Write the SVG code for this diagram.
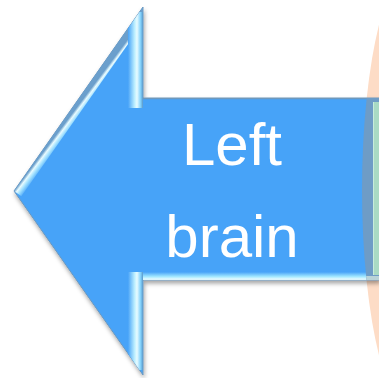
<svg xmlns="http://www.w3.org/2000/svg" width="379" height="378" viewBox="0 0 379 378">
  <defs>
    <style>
      .lbl { font-family: "Liberation Sans", Arial, sans-serif; font-size: 60px; fill: #ffffff; text-anchor: middle; }
    </style>
    <clipPath id="arrowClip">
      <path d="M14,191 L143,7 L143,98 L379,98 L379,280 L143,280 L143,375 Z"/>
    </clipPath>
    <clipPath id="ellClip">
      <ellipse cx="422" cy="190" rx="60" ry="237"/>
    </clipPath>
    <filter id="shadow" x="-10%" y="-10%" width="130%" height="130%">
      <feDropShadow dx="1" dy="3" stdDeviation="2" flood-color="#000" flood-opacity="0.35"/>
    </filter>
    <linearGradient id="edgeDiag" gradientUnits="userSpaceOnUse" x1="14" y1="191" x2="22" y2="197">
      <stop offset="0" stop-color="#6b9fcc"/>
      <stop offset="0.25" stop-color="#e8fbff"/>
      <stop offset="0.55" stop-color="#9fe0ff"/>
      <stop offset="1" stop-color="#48a3f8"/>
    </linearGradient>
    <linearGradient id="edgeVert" gradientUnits="userSpaceOnUse" x1="128" y1="0" x2="143" y2="0">
      <stop offset="0" stop-color="#48a3f8"/>
      <stop offset="0.45" stop-color="#bff0ff"/>
      <stop offset="0.6" stop-color="#e8fbff"/>
      <stop offset="0.85" stop-color="#7fd0fb"/>
      <stop offset="1" stop-color="#5a96c8"/>
    </linearGradient>
    <linearGradient id="edgeBottom" gradientUnits="userSpaceOnUse" x1="0" y1="272" x2="0" y2="281">
      <stop offset="0" stop-color="#48a3f8"/>
      <stop offset="0.5" stop-color="#9fe6ff"/>
      <stop offset="0.8" stop-color="#e6fbff"/>
      <stop offset="1" stop-color="#a7d2e6"/>
    </linearGradient>
  </defs>

  <g id="ellipse-brain">
    <ellipse cx="422" cy="190" rx="60" ry="237" fill="#fddcc6"/>
  </g>

  <g id="arrow-left-brain">
    <path d="M14,191 L143,7 L143,98 L379,98 L379,280 L143,280 L143,375 Z" fill="#47a3f8" stroke="#6d98bd" stroke-width="1" filter="url(#shadow)"/>
    <g clip-path="url(#arrowClip)">
      <line x1="14" y1="191" x2="143" y2="7" stroke="url(#edgeDiag)" stroke-width="18"/>
      <rect x="128" y="12" width="15" height="96" fill="url(#edgeVert)"/>
      <rect x="128" y="272" width="15" height="98" fill="url(#edgeVert)"/>
      <rect x="143" y="272" width="236" height="9" fill="url(#edgeBottom)"/>
      <line x1="143" y1="98.5" x2="379" y2="98.5" stroke="#6d98bd" stroke-width="1.5"/>
      <g clip-path="url(#ellClip)">
        <rect x="355" y="96" width="30" height="187" fill="#6e9cc6"/>
        <rect x="355" y="276" width="30" height="6" fill="#b9d3d8"/>
      </g>
    </g>
    <text class="lbl" x="232" y="165">Left</text>
    <text class="lbl" x="232" y="257">brain</text>
  </g>

  <g id="right-box">
    <rect x="373" y="102" width="10" height="173" fill="#a9dac4"/>
    <line x1="373.5" y1="102" x2="373.5" y2="275" stroke="#c7ecdc" stroke-width="1"/>
  </g>
</svg>
